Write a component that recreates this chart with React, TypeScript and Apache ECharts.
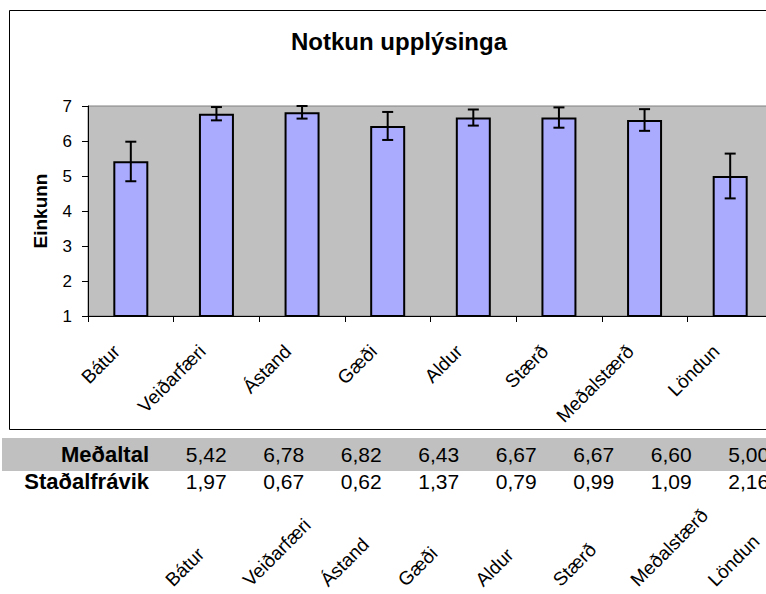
import React, { useEffect, useRef } from 'react';
import * as echarts from 'echarts';

const chartTitle = 'Notkun upplýsinga';
const yAxisName = 'Einkunn';
const categories = ['Bátur', 'Veiðarfæri', 'Ástand', 'Gæði', 'Aldur', 'Stærð', 'Meðalstærð', 'Löndun'];
const means = [5.42, 6.78, 6.82, 6.43, 6.67, 6.67, 6.6, 5.0];
const stdDevs = [1.97, 0.67, 0.62, 1.37, 0.79, 0.99, 1.09, 2.16];
const errLow = [4.85, 6.59, 6.64, 6.03, 6.44, 6.38, 6.29, 4.36];
const errHigh = [5.98, 6.97, 7.0, 6.83, 6.9, 6.96, 6.91, 5.64];
const yTicks = [1, 2, 3, 4, 5, 6, 7];
const rowLabels = ['Staðalfrávik', 'Meðaltal'];

const FONT = 'Arial, "Liberation Sans", sans-serif';
const fmt = (v: number) => v.toFixed(2).replace('.', ',');

export default function App() {
  const ref = useRef<HTMLDivElement>(null);
  useEffect(() => {
    if (!ref.current) return;
    const chart = echarts.init(ref.current, null, { renderer: 'svg' });
    const cellLabel = {
      show: true,
      position: [0, 0],
      align: 'center',
      verticalAlign: 'middle',
      fontSize: 21,
      fontFamily: FONT,
      color: '#000',
      opacity: 1,
      formatter: (p: any) => fmt(p.value[2]),
    };
    const option: any = {
      animation: false,
      backgroundColor: '#ffffff',
      textStyle: { fontFamily: FONT, color: '#000' },
      title: {
        text: chartTitle,
        left: 394,
        top: 24,
        textAlign: 'center',
        textStyle: { fontFamily: FONT, fontSize: 24, fontWeight: 'bold', color: '#000' },
      },
      graphic: [
        {
          type: 'rect',
          z: -10,
          shape: { x: 9.5, y: 10.5, width: 820, height: 419 },
          style: { fill: 'none', stroke: '#000', lineWidth: 1 },
        },
        {
          type: 'rect',
          z: -10,
          shape: { x: 2, y: 438, width: 770, height: 33 },
          style: { fill: '#C0C0C0' },
        },
      ],
      grid: [
        {
          left: 88, top: 106, width: 685, height: 210,
          show: true, backgroundColor: '#C0C0C0', borderColor: '#808080', borderWidth: 1,
          outerBoundsMode: 'none', containLabel: false,
        },
        { left: 168, top: 441, width: 620, height: 54, outerBoundsMode: 'none', containLabel: false },
        { left: 130, top: 586, width: 620, height: 5, outerBoundsMode: 'none', containLabel: false },
      ],
      xAxis: [
        {
          gridIndex: 0, type: 'category', data: categories,
          axisLine: { show: true, lineStyle: { color: '#000', width: 1 } },
          axisTick: { show: true, length: 6, alignWithLabel: false, lineStyle: { color: '#000' } },
          axisLabel: {
            rotate: 45, interval: 0, fontSize: 19, fontFamily: FONT, color: '#000',
            margin: 18, padding: [0, 20, 0, 0], hideOverlap: false,
          },
          splitLine: { show: false },
        },
        { gridIndex: 1, type: 'category', data: categories, show: false },
        {
          gridIndex: 2, type: 'category', data: categories, position: 'top',
          axisLine: { show: false }, axisTick: { show: false }, splitLine: { show: false },
          axisLabel: { rotate: 45, interval: 0, fontSize: 19, fontFamily: FONT, color: '#000', margin: 3, hideOverlap: false },
        },
      ],
      yAxis: [
        {
          gridIndex: 0, type: 'value',
          min: yTicks[0], max: yTicks[yTicks.length - 1], interval: yTicks[1] - yTicks[0],
          axisLine: { show: true, lineStyle: { color: '#000', width: 1 } },
          axisTick: { show: true, length: 6, lineStyle: { color: '#000' } },
          splitLine: { show: false },
          axisLabel: { fontSize: 17, fontFamily: FONT, color: '#000', margin: 16 },
          name: yAxisName, nameLocation: 'middle', nameRotate: 90, nameGap: 38,
          nameTextStyle: { fontSize: 19, fontWeight: 'bold', fontFamily: FONT, color: '#000' },
        },
        {
          gridIndex: 1, type: 'category', data: rowLabels,
          axisLine: { show: false }, axisTick: { show: false }, splitLine: { show: false },
          axisLabel: { interval: 0, fontSize: 22, fontWeight: 'bold', fontFamily: FONT, color: '#000', margin: 19, hideOverlap: false },
        },
        { gridIndex: 2, type: 'value', show: false },
      ],
      series: [
        {
          type: 'bar', xAxisIndex: 0, yAxisIndex: 0, data: means, barWidth: 35,
          itemStyle: { color: '#AAAAFF', borderColor: '#000', borderWidth: 2 },
        },
        {
          type: 'custom', xAxisIndex: 0, yAxisIndex: 0, z: 5,
          data: categories.map((_, i) => [i, errLow[i], errHigh[i]]),
          renderItem: (params: any, api: any) => {
            const lo = api.coord([api.value(0), api.value(1)]);
            const hi = api.coord([api.value(0), api.value(2)]);
            const hw = 5.5;
            const st = { stroke: '#000', lineWidth: 2 };
            return {
              type: 'group',
              children: [
                { type: 'line', shape: { x1: lo[0], y1: lo[1], x2: hi[0], y2: hi[1] }, style: st },
                { type: 'line', shape: { x1: lo[0] - hw, y1: lo[1], x2: lo[0] + hw, y2: lo[1] }, style: st },
                { type: 'line', shape: { x1: hi[0] - hw, y1: hi[1], x2: hi[0] + hw, y2: hi[1] }, style: st },
              ],
            };
          },
        },
        {
          type: 'scatter', xAxisIndex: 1, yAxisIndex: 1, symbolSize: 1,
          itemStyle: { color: 'rgba(0,0,0,0)' },
          emphasis: { disabled: true },
          data: means.map((m, i) => [i, 1, m]),
          label: cellLabel,
        },
        {
          type: 'scatter', xAxisIndex: 1, yAxisIndex: 1, symbolSize: 1,
          itemStyle: { color: 'rgba(0,0,0,0)' },
          emphasis: { disabled: true },
          data: stdDevs.map((s, i) => [i, 0, s]),
          label: cellLabel,
        },
      ],
    };
    chart.setOption(option);
    return () => chart.dispose();
  }, []);
  return (
    <div
      ref={ref}
      style={{ position: 'absolute', left: 0, top: 0, width: 766, height: 594, background: '#fff' }}
    />
  );
}
